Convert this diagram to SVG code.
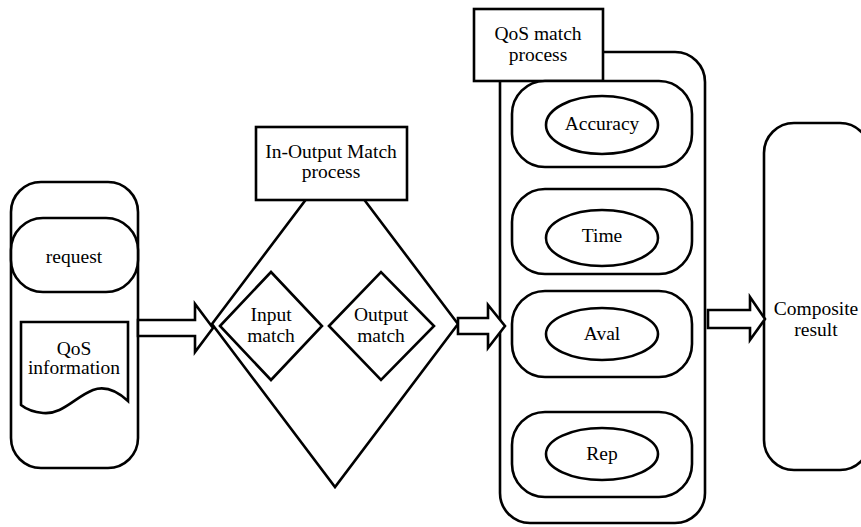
<svg xmlns="http://www.w3.org/2000/svg" width="861" height="527" viewBox="0 0 861 527">
  <style>
    .shape { fill: #fff; stroke: #000; stroke-width: 2.6; stroke-linejoin: miter; }
    .label { font-family: 'Liberation Serif', Tinos, 'Times New Roman', 'DejaVu Serif', serif; font-size: 19.5px; fill: #000; text-anchor: middle; }
  </style>
  <rect width="861" height="527" fill="#fff"/>

  <!-- Request side -->
  <g id="request-group">
    <rect class="shape" x="11" y="182" width="127" height="286" rx="30" ry="30"/>
  </g>
  <g id="request">
    <rect class="shape" x="11" y="218" width="127" height="74" rx="32" ry="32"/>
    <text class="label" x="74" y="263">request</text>
  </g>
  <g id="qos-information">
    <path class="shape" d="M21,322 H128 V401 C115,389 104,386 93,390 C75,397 62,415 43,413 C33,412 26,409 21,405 Z"/>
    <text class="label" x="74" y="355">QoS</text>
    <text class="label" x="74" y="374">information</text>
  </g>

  <!-- In/Output matching -->
  <g id="inout-match">
    <polygon class="shape" points="335,161 458,324 335,487 212,324"/>
    <rect class="shape" x="256" y="127" width="151" height="73"/>
    <text class="label" x="331" y="158">In-Output Match</text>
    <text class="label" x="331" y="178">process</text>
  </g>
  <g id="input-match">
    <polygon class="shape" points="220,326 271,272 322,326 271,380"/>
    <text class="label" x="271" y="321">Input</text>
    <text class="label" x="271" y="342">match</text>
  </g>
  <g id="output-match">
    <polygon class="shape" points="329,326 381,272 434,326 381,380"/>
    <text class="label" x="381" y="321">Output</text>
    <text class="label" x="381" y="342">match</text>
  </g>

  <!-- QoS matching -->
  <g id="qos-match">
    <rect class="shape" x="500" y="52" width="205" height="471" rx="30" ry="30"/>
    <rect class="shape" x="474" y="9" width="129" height="72"/>
    <text class="label" x="538" y="40">QoS match</text>
    <text class="label" x="538" y="61">process</text>
  </g>
  <g id="accuracy">
    <rect class="shape" x="512" y="81" width="180" height="86" rx="33" ry="33"/>
    <ellipse class="shape" cx="602" cy="125" rx="56" ry="29"/>
    <text class="label" x="602" y="130">Accuracy</text>
  </g>
  <g id="time">
    <rect class="shape" x="512" y="189" width="180" height="85" rx="33" ry="33"/>
    <ellipse class="shape" cx="602" cy="238" rx="56" ry="28"/>
    <text class="label" x="602" y="242">Time</text>
  </g>
  <g id="aval">
    <rect class="shape" x="512" y="291" width="180" height="86" rx="33" ry="33"/>
    <ellipse class="shape" cx="602" cy="334" rx="56" ry="26"/>
    <text class="label" x="602" y="340">Aval</text>
  </g>
  <g id="rep">
    <rect class="shape" x="512" y="412" width="180" height="85" rx="33" ry="33"/>
    <ellipse class="shape" cx="602" cy="454" rx="56" ry="26"/>
    <text class="label" x="602" y="460">Rep</text>
  </g>

  <!-- Result -->
  <g id="composite-result">
    <rect class="shape" x="764" y="123" width="106" height="347" rx="30" ry="30"/>
    <text class="label" x="816" y="315">Composite</text>
    <text class="label" x="816" y="336">result</text>
  </g>

  <!-- Block arrows between stages -->
  <g id="connectors">
    <path class="shape" d="M138,320 H195 V304 L213,328 L195,352 V336 H138 Z"/>
    <path class="shape" d="M458,318 H488 V305 L505,326 L488,348 V334 H458 Z"/>
    <path class="shape" d="M708,310 H750 V297 L765,319 L750,340 V328 H708 Z"/>
  </g>
</svg>
